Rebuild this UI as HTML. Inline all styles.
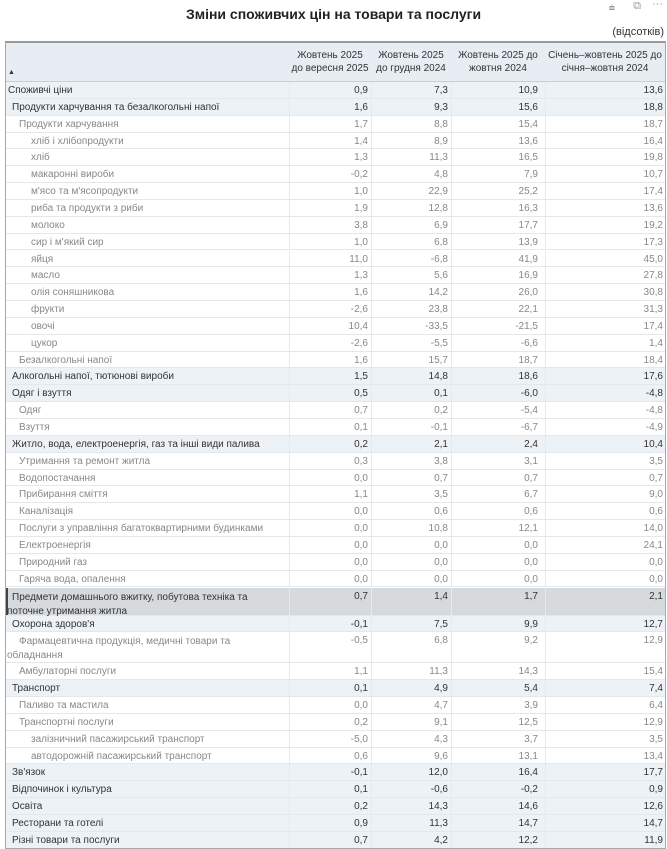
<!DOCTYPE html>
<html><head><meta charset="utf-8">
<style>
body{margin:0;width:667px;height:848px;overflow:hidden;background:#fff;font-family:"Liberation Sans","DejaVu Sans",sans-serif;position:relative}
.t{position:absolute;white-space:nowrap}
#title{left:0;width:667px;top:6px;text-align:center;font-weight:bold;font-size:14px;color:#222}
#unit{right:3px;top:26px;font-size:11px;color:#333}
#tbl{position:absolute;left:5px;top:41px;width:659px;height:805px;border:1px solid #a8a8a8;border-top:2px solid #9a9a9a;overflow:hidden}
.row{position:absolute;left:0;width:659px;border-bottom:1px solid #e3e8ee;font-size:10px}
.hd{position:absolute;font-size:10px;color:#333;text-align:center;line-height:13px}
</style></head><body>
<div class="t" id="title">Зміни споживчих цін на товари та послуги</div>
<div class="t" style="right:52px;top:2px;font-size:11px;color:#999">⩧</div>
<div class="t" style="right:26px;top:0px;font-size:11px;color:#999">⧉</div>
<div class="t" style="right:4px;top:-2px;font-size:11px;color:#999">···</div>
<div class="t" id="unit">(відсотків)</div>
<div id="tbl">
 <div style="position:absolute;left:0;top:0;width:659px;height:38px;background:#e7edf3;border-bottom:1px solid #c8ced4">
  <div class="t" style="left:2px;top:26px;font-size:7px;color:#333">▲</div>
  <div class="hd" style="left:283px;width:82px;top:6px">Жовтень 2025<br>до вересня 2025</div>
  <div class="hd" style="left:365px;width:80px;top:6px">Жовтень 2025<br>до грудня 2024</div>
  <div class="hd" style="left:445px;width:94px;top:6px">Жовтень 2025 до<br>жовтня 2024</div>
  <div class="hd" style="left:539px;width:120px;top:6px">Січень–жовтень 2025 до<br>січня–жовтня 2024</div>
 </div>
 <div id="body"></div>
</div>
<script>
const labels=["Споживчі ціни","Продукти харчування та безалкогольні напої","Продукти харчування","хліб і хлібопродукти","хліб","макаронні вироби","м'ясо та м'ясопродукти","риба та продукти з риби","молоко","сир і м'який сир","яйця","масло","олія соняшникова","фрукти","овочі","цукор","Безалкогольні напої","Алкогольні напої, тютюнові вироби","Одяг і взуття","Одяг","Взуття","Житло, вода, електроенергія, газ та інші види палива","Утримання та ремонт житла","Водопостачання","Прибирання сміття","Каналізація","Послуги з управління багатоквартирними будинками","Електроенергія","Природний газ","Гаряча вода, опалення","Предмети домашнього вжитку, побутова техніка та\nпоточне утримання житла","Охорона здоров'я","Фармацевтична продукція, медичні товари та\nобладнання","Амбулаторні послуги","Транспорт","Паливо та мастила","Транспортні послуги","залізничний пасажирський транспорт","автодорожній пасажирський транспорт","Зв'язок","Відпочинок і культура","Освіта","Ресторани та готелі","Різні товари та послуги"];
const levels=[0,1,2,3,3,3,3,3,3,3,3,3,3,3,3,3,2,1,1,2,2,1,2,2,2,2,2,2,2,2,1,1,2,2,1,2,2,3,3,1,1,1,1,1];
const colMonth=["0,9","1,6","1,7","1,4","1,3","-0,2","1,0","1,9","3,8","1,0","11,0","1,3","1,6","-2,6","10,4","-2,6","1,6","1,5","0,5","0,7","0,1","0,2","0,3","0,0","1,1","0,0","0,0","0,0","0,0","0,0","0,7","-0,1","-0,5","1,1","0,1","0,0","0,2","-5,0","0,6","-0,1","0,1","0,2","0,9","0,7"];
const colDec=["7,3","9,3","8,8","8,9","11,3","4,8","22,9","12,8","6,9","6,8","-6,8","5,6","14,2","23,8","-33,5","-5,5","15,7","14,8","0,1","0,2","-0,1","2,1","3,8","0,7","3,5","0,6","10,8","0,0","0,0","0,0","1,4","7,5","6,8","11,3","4,9","4,7","9,1","4,3","9,6","12,0","-0,6","14,3","11,3","4,2"];
const colYear=["10,9","15,6","15,4","13,6","16,5","7,9","25,2","16,3","17,7","13,9","41,9","16,9","26,0","22,1","-21,5","-6,6","18,7","18,6","-6,0","-5,4","-6,7","2,4","3,1","0,7","6,7","0,6","12,1","0,0","0,0","0,0","1,7","9,9","9,2","14,3","5,4","3,9","12,5","3,7","13,1","16,4","-0,2","14,6","14,7","12,2"];
const colYtd=["13,6","18,8","18,7","16,4","19,8","10,7","17,4","13,6","19,2","17,3","45,0","27,8","30,8","31,3","17,4","1,4","18,4","17,6","-4,8","-4,8","-4,9","10,4","3,5","0,7","9,0","0,6","14,0","24,1","0,0","0,0","2,1","12,7","12,9","15,4","7,4","6,4","12,9","3,5","13,4","17,7","0,9","12,6","14,7","11,9"];
const selected=30;
const body=document.getElementById('body');
const indent=[2,6,13,25];
const colRight=[362,442,532,657];
const colLines=[283,365,445,539];
let y=39;
for(let i=0;i<labels.length;i++){
  const two=labels[i].includes('\n');
  const h=two?(i===selected?28:31):16.85;
  const r=document.createElement('div');
  r.className='row';
  
  
  r.style.top=y+'px';r.style.height=(h-1)+'px';
  const lv=levels[i];
  let bg=lv<=1?'#edf2f7':'#fff';
  if(i===selected)bg='#d6dadd';
  r.style.background=bg;
  const col=lv<=1?'#333':'#888';
  if(i===selected){r.style.boxShadow='inset 2px 0 0 #444';}
  const lb=document.createElement('div');
  lb.className='t';
  
  
  lb.style.cssText='left:'+indent[lv]+'px;top:3px;color:'+col+';line-height:'+(two?'14px':'11px');
  if(two){const a=labels[i].split('\n');lb.innerHTML=a[0]+'<br><span style="margin-left:-'+(indent[lv]-1)+'px">'+a[1]+'</span>';}
  else lb.textContent=labels[i];
  r.appendChild(lb);
  const vals=[colMonth[i],colDec[i],colYear[i],colYtd[i]];
  for(let c=0;c<4;c++){
    const v=document.createElement('div');
    v.className='t';
    
    
    v.style.cssText='right:'+(659-colRight[c])+'px;top:3px;line-height:11px;color:'+col;
    v.textContent=vals[c];
    r.appendChild(v);
  }
  for(let c=0;c<4;c++){
    const ln=document.createElement('div');
    
    
    ln.style.cssText='position:absolute;top:0;bottom:0;width:1px;background:#e6eaee;left:'+colLines[c]+'px';
    r.appendChild(ln);
  }
  body.appendChild(r);
  y+=h;
}
</script>
</body></html>
